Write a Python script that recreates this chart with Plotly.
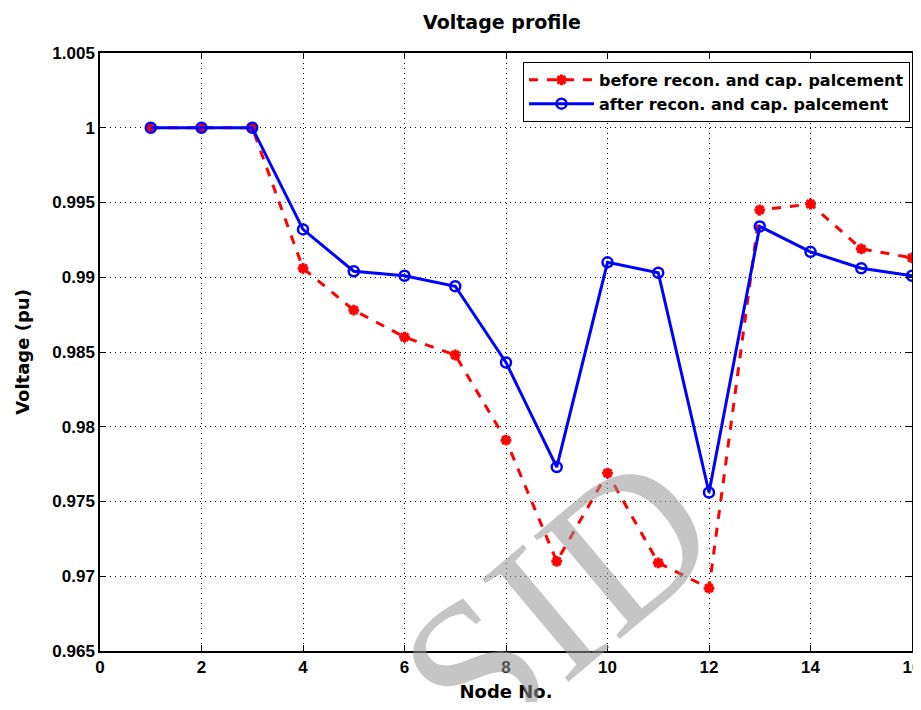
import plotly.graph_objects as go

nodes = list(range(1, 17))
before = [1.0, 1.0, 1.0, 0.9906, 0.9878, 0.9860, 0.9848, 0.9791, 0.9710, 0.9769,
          0.9709, 0.9692, 0.9945, 0.9949, 0.9919, 0.9913]
after = [1.0, 1.0, 1.0, 0.9932, 0.9904, 0.9901, 0.9894, 0.9843, 0.9773, 0.9910,
         0.9903, 0.9756, 0.9934, 0.9917, 0.9906, 0.9901]

x_ticks = list(range(0, 17, 2))
y_ticks = [0.965, 0.97, 0.975, 0.98, 0.985, 0.99, 0.995, 1.0, 1.005]
y_tick_labels = ["0.965", "0.97", "0.975", "0.98", "0.985", "0.99", "0.995", "1", "1.005"]

TICKFONT = "Liberation Sans"
TEXTFONT = "DejaVu Sans"

fig = go.Figure()
fig.add_trace(go.Scatter(
    x=nodes, y=before, mode="lines+markers",
    name="before recon. and cap. palcement",
    line=dict(color="#ff0000", width=3, dash="dash"),
    marker=dict(symbol="asterisk-open", size=9, color="#ff0000",
                line=dict(color="#ff0000", width=3)),
))
fig.add_trace(go.Scatter(
    x=nodes, y=after, mode="lines+markers",
    name="after recon. and cap. palcement",
    line=dict(color="#0000ff", width=3),
    marker=dict(symbol="circle-open", size=10, color="#0000ff",
                line=dict(color="#0000ff", width=2.5)),
))

axis_common = dict(
    showline=True, linecolor="black", linewidth=1.5, mirror="allticks",
    ticks="inside", ticklen=6, tickcolor="black", tickwidth=1,
    showgrid=True, gridcolor="black", gridwidth=1, griddash="1px,4px",
    zeroline=False, automargin=False, ticklabeloverflow="allow",
    tickfont=dict(family=TICKFONT, size=17, color="black", weight="bold"),
)

fig.update_xaxes(range=[0, 16], tickvals=x_ticks,
                 title=dict(text="Node No.", font=dict(family=TEXTFONT, size=18, color="black", weight="bold"),
                            standoff=11),
                 **axis_common)
fig.update_yaxes(range=[0.965, 1.005], tickvals=y_ticks, ticktext=y_tick_labels,
                 title=dict(text="Voltage (pu)", font=dict(family=TEXTFONT, size=18, color="black", weight="bold"),
                            standoff=18),
                 **axis_common)

# The page body adds an 8px offset, so the figure is sized to fit inside the window.
fig.update_layout(
    width=913, height=694,
    margin=dict(l=91.5, r=9, t=45, b=51),
    paper_bgcolor="white", plot_bgcolor="white",
    title=dict(text="Voltage profile", x=0.541, xanchor="center", y=0.980, yanchor="middle",
               font=dict(family=TEXTFONT, size=19, color="black", weight="bold")),
    showlegend=True,
    legend=dict(x=0.9975, xanchor="right", y=0.985, yanchor="top",
                bgcolor="white", bordercolor="black", borderwidth=1,
                itemwidth=65, tracegroupgap=0,
                font=dict(family=TEXTFONT, size=16, color="black", weight="bold")),
    annotations=[dict(
        text="SID", xref="paper", yref="paper", x=0.563, y=0.085,
        xanchor="center", yanchor="middle",
        showarrow=False, textangle=-40,
        font=dict(family="Liberation Serif", size=205, color="rgba(150,150,150,0.55)"),
    )],
)

fig.write_html("out.html")
